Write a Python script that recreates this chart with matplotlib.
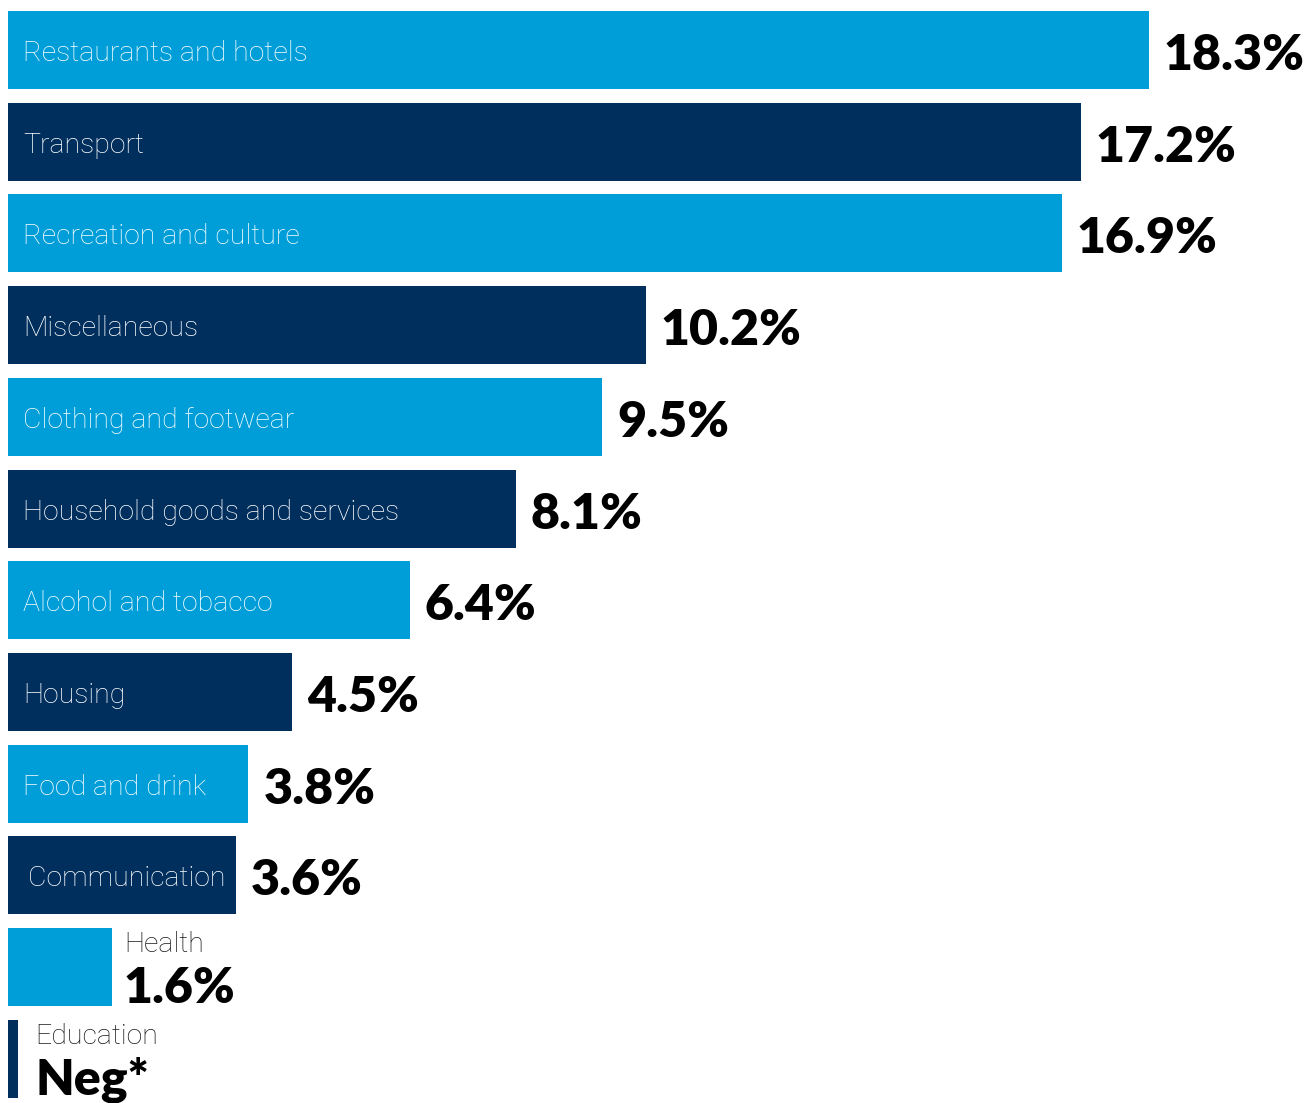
import matplotlib

matplotlib.use("Agg")
import matplotlib.pyplot as plt

# spending split by category (%), top to bottom
categories = [
    "Restaurants and hotels",
    "Transport",
    "Recreation and culture",
    "Miscellaneous",
    "Clothing and footwear",
    "Household goods and services",
    "Alcohol and tobacco",
    "Housing",
    "Food and drink",
    "Communication",
    "Health",
    "Education",
]
values = [18.3, 17.2, 16.9, 10.2, 9.5, 8.1, 6.4, 4.5, 3.8, 3.6, 1.6, 0.09]
value_labels = ["18.3%", "17.2%", "16.9%", "10.2%", "9.5%", "8.1%", "6.4%",
                "4.5%", "3.8%", "3.6%", "1.6%", "Neg*"]

LIGHT = "#009ED9"
DARK = "#002F5E"
colors = [LIGHT if i % 2 == 0 else DARK for i in range(len(categories))]

W, H, DPI = 1313, 1103, 100
PX_PER_UNIT = 62.1
ORIGIN_PX = 12.5
BAR_PAD = 4.5 / PX_PER_UNIT  # bars start a little left of zero
ROW = 91.7
fig = plt.figure(figsize=(W / DPI, H / DPI), dpi=DPI)
ax = fig.add_axes([0, 0, 1, 1])
ax.set_xlim(-ORIGIN_PX / PX_PER_UNIT, (W - ORIGIN_PX) / PX_PER_UNIT)
top = -50 / ROW
ax.set_ylim(top + H / ROW, top)
ax.axis("off")

ypos = list(range(len(categories)))
ax.barh(ypos, [v + BAR_PAD for v in values], left=-BAR_PAD,
        height=78 / ROW, color=colors)

LABEL_FONT = dict(family=["Roboto", "DejaVu Sans"], fontweight="light", fontsize=20.5)
VALUE_FONT = dict(family=["Lato", "DejaVu Sans"], fontweight="heavy", fontsize=36)

for i, (cat, val, vlab) in enumerate(zip(categories, values, value_labels)):
    if cat in ("Health", "Education"):
        dx = 12 if cat == "Health" else 17
        ax.annotate(cat, (val, i), xytext=(dx, 15), textcoords="offset pixels",
                    ha="left", va="baseline", color="#1a1a1a", **LABEL_FONT)
        ax.annotate(vlab, (val, i), xytext=(dx, -36), textcoords="offset pixels",
                    ha="left", va="baseline", color="black", **VALUE_FONT)
    else:
        dx = 15 if cat == "Communication" else 10.5
        ax.annotate(cat, (0, i), xytext=(dx, -11), textcoords="offset pixels",
                    ha="left", va="baseline", color="white", **LABEL_FONT)
        ax.annotate(vlab, (val, i), xytext=(15, -20), textcoords="offset pixels",
                    ha="left", va="baseline", color="black", **VALUE_FONT)

fig.savefig("out.png", dpi=DPI)
